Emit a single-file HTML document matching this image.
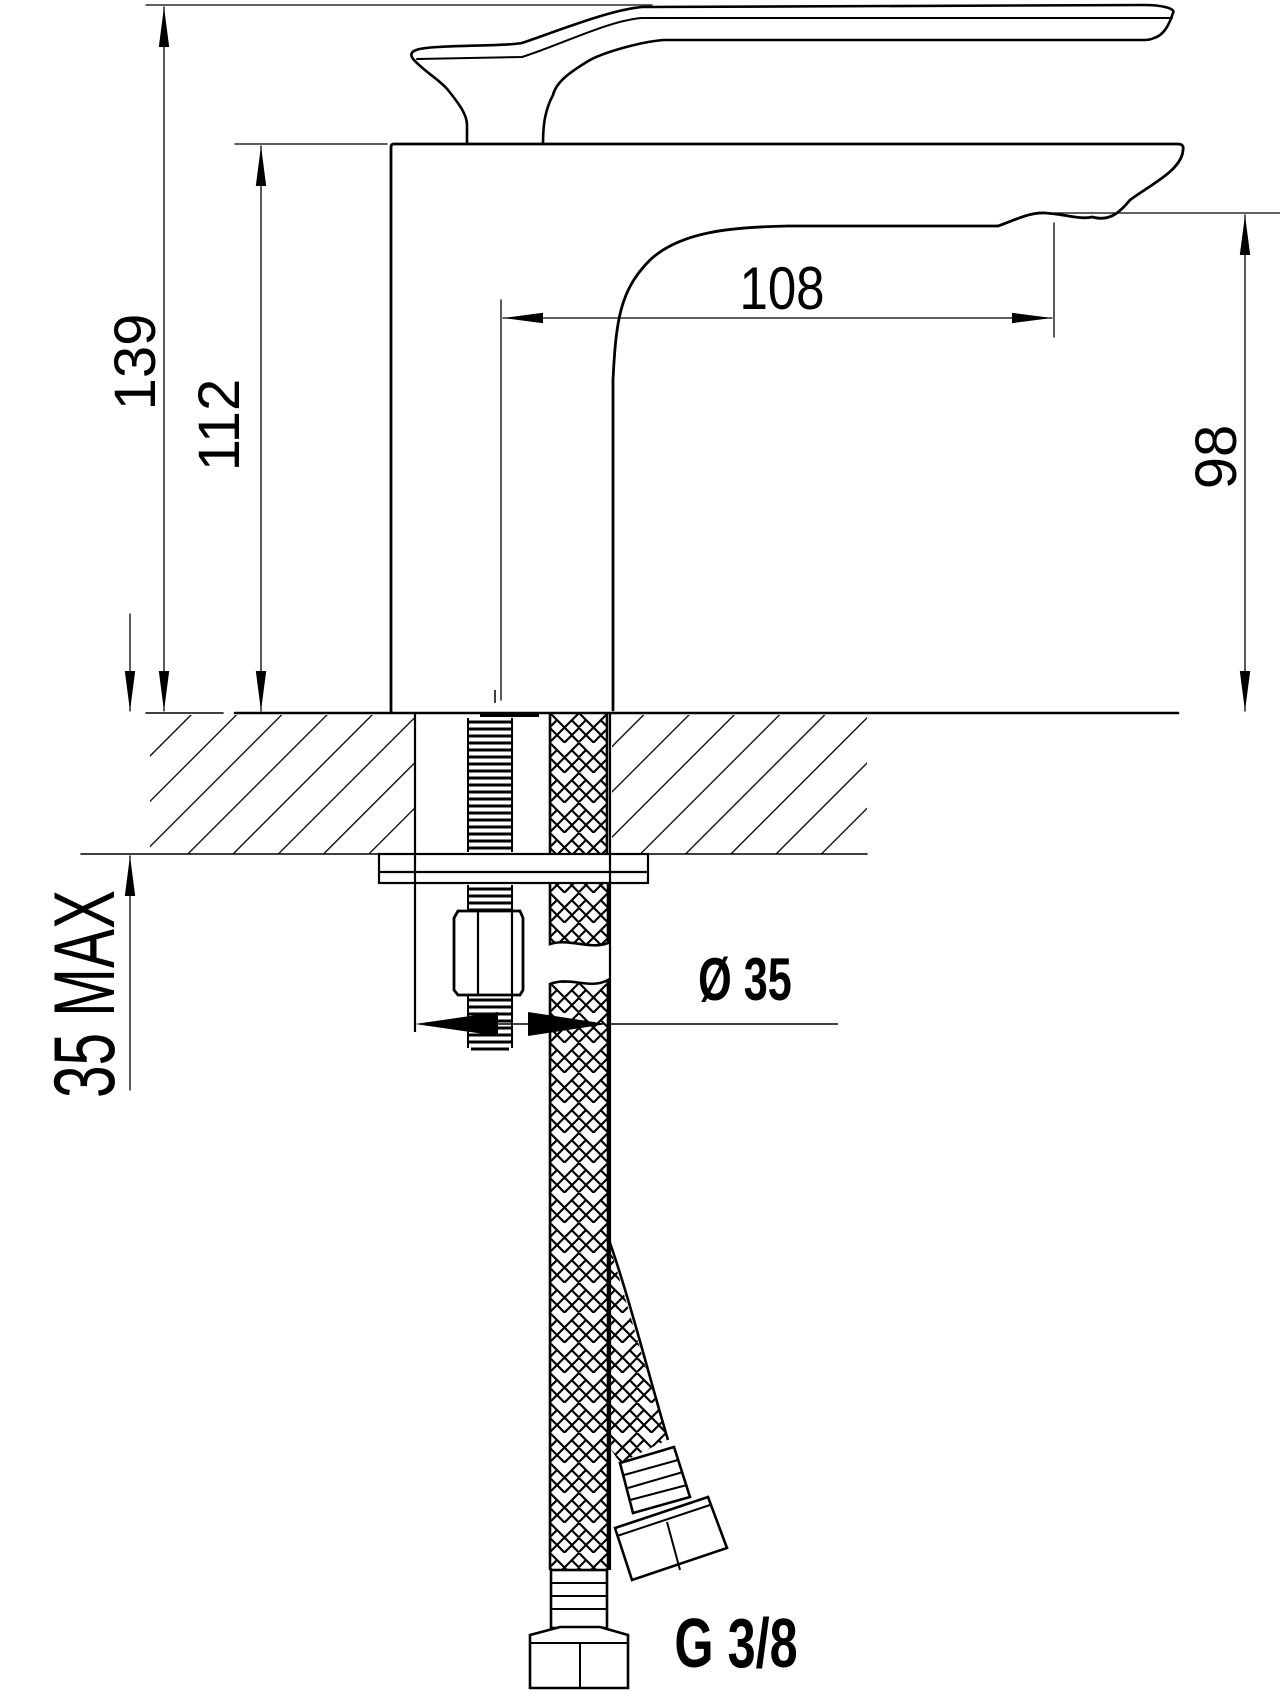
<!DOCTYPE html>
<html><head><meta charset="utf-8"><style>
html,body{margin:0;padding:0;background:#fff;}
svg{display:block;}
text{font-family:"Liberation Sans",sans-serif;fill:#000;}
</style></head><body>
<svg width="1280" height="1697" viewBox="0 0 1280 1697" xmlns="http://www.w3.org/2000/svg">
<defs>
<marker id="ab" viewBox="0 0 10 10" refX="10" refY="5" markerWidth="40" markerHeight="40" markerUnits="userSpaceOnUse" orient="auto-start-reverse"><path d="M0,3.7 L10,5 L0,6.3 Z" fill="#000"/></marker>
<pattern id="hatch" patternUnits="userSpaceOnUse" width="32" height="32" patternTransform="rotate(45)">
<line x1="0" y1="0" x2="0" y2="32" stroke="#000" stroke-width="2.6"/>
</pattern>
<pattern id="braid" patternUnits="userSpaceOnUse" width="29" height="30" x="550" y="713">
<path d="M0,0 L14.5,14.5 L29,0 M0,15 L14.5,29.5 L29,15 M7,7 L0,14 M21.5,7 L29,14.5 M7,22 L0,29 M21.5,22 L29,29.5 M14.5,14.5 L7,22 M14.5,14.5 L22,22" stroke="#000" stroke-width="2.2" fill="none"/>
</pattern>
<clipPath id="hl"><rect x="150" y="715" width="265" height="139"/></clipPath>
<clipPath id="hr"><rect x="612" y="715" width="255" height="139"/></clipPath>
</defs>

<g fill="none" stroke="#000" stroke-linecap="round" stroke-linejoin="round">
<line x1="146" y1="5" x2="652" y2="5" stroke-width="1.3"/>
<line x1="164" y1="7" x2="164" y2="711" stroke-width="1.3" marker-start="url(#ab)" marker-end="url(#ab)"/>
<line x1="235" y1="144" x2="387" y2="144" stroke-width="1.3"/>
<line x1="261" y1="146" x2="261" y2="711" stroke-width="1.3" marker-start="url(#ab)" marker-end="url(#ab)"/>
<line x1="1055" y1="213" x2="1280" y2="213" stroke-width="1.3"/>
<line x1="1245" y1="215" x2="1245" y2="711" stroke-width="1.3" marker-start="url(#ab)" marker-end="url(#ab)"/>
<line x1="501" y1="300" x2="501" y2="700" stroke-width="1.3"/>
<line x1="1054" y1="223" x2="1054" y2="337" stroke-width="1.3"/>
<line x1="503" y1="318" x2="1052" y2="318" stroke-width="1.3" marker-start="url(#ab)" marker-end="url(#ab)"/>
<line x1="130" y1="614" x2="130" y2="711" stroke-width="1.3" marker-end="url(#ab)"/>
<line x1="130" y1="1090" x2="130" y2="856" stroke-width="1.3" marker-end="url(#ab)"/>

<path d="M414,60 C405,50 420,48 438,47 C470,45 505,46 522,43 C560,30 610,10 642,7 L1144,5 C1160,5 1176,8 1173,13 C1170,22 1165,35 1154,38 C1150,40 1147,40 1144,40 L663,40 C640,42 605,52 590,60 C570,72 556,82 553,95 C545,110 543,125 543,143" stroke-width="2.6"/>
<path d="M417,59 L522,57 C560,45 610,20 642,18 L1172,18" stroke-width="2"/>
<path d="M414,60 C425,72 440,80 448,90 C460,105 467,115 467,125 L467,143" stroke-width="2.6"/>

<path d="M613,710 L613,380 C616,320 620,290 650,260 C680,232 730,227 788,226 L998,226 C1015,220 1030,212 1045,213 C1065,214 1080,220 1092,217 C1110,222 1120,212 1130,200 C1150,185 1182,170 1183,150 C1184,146 1182,144 1178,144 L394,144 C391,144 391,146 391,148 L391,712" stroke-width="2.8"/>

<line x1="146" y1="713" x2="223" y2="713" stroke-width="1.5"/>
<line x1="235" y1="713" x2="1178" y2="713" stroke-width="2.6"/>
<line x1="81" y1="854" x2="867" y2="854" stroke-width="1.6"/>
</g>
<rect x="150" y="715" width="265" height="139" fill="url(#hatch)" clip-path="url(#hl)"/>
<rect x="612" y="715" width="255" height="139" fill="url(#hatch)" clip-path="url(#hr)"/>
<rect x="416" y="715" width="194" height="138" fill="#fff"/>

<g fill="none" stroke="#000" stroke-linejoin="round">
<line x1="415" y1="713" x2="415" y2="1032" stroke-width="2.2"/>
<line x1="610" y1="713" x2="610" y2="1570" stroke-width="2.2"/>
<line x1="480" y1="715" x2="539" y2="715" stroke-width="4"/>
<line x1="495" y1="690" x2="495" y2="703" stroke-width="1.5"/>
</g>
<g stroke="#000" stroke-width="3" fill="none">
<path d="M469,722 L511,722 M469,729 L511,729 M469,736 L511,736 M469,743 L511,743 M469,750 L511,750 M469,757 L511,757 M469,764 L511,764 M469,771 L511,771 M469,778 L511,778 M469,785 L511,785 M469,792 L511,792 M469,799 L511,799 M469,806 L511,806 M469,813 L511,813 M469,820 L511,820 M469,827 L511,827 M469,834 L511,834 M469,841 L511,841 M469,848 L511,848"/>
<path d="M469,889 L511,889 M469,896 L511,896 M469,903 L511,903 M469,910 L511,910"/>
<path d="M469,1000 L511,1000 M469,1007 L511,1007 M469,1014 L511,1014 M469,1021 L511,1021 M469,1028 L511,1028 M469,1035 L511,1035 M469,1042 L511,1042 M471,1049 L509,1049"/>
<line x1="468" y1="718" x2="468" y2="852" stroke-width="2"/>
<line x1="512" y1="718" x2="512" y2="852" stroke-width="2"/>
<line x1="468" y1="885" x2="468" y2="910" stroke-width="2"/>
<line x1="512" y1="885" x2="512" y2="910" stroke-width="2"/>
<line x1="468" y1="996" x2="468" y2="1048" stroke-width="2"/>
<line x1="512" y1="996" x2="512" y2="1048" stroke-width="2"/>
</g>

<g fill="#fff" stroke="#000" stroke-width="2.2">
<rect x="379" y="854" width="269" height="29"/>
<line x1="379" y1="872" x2="648" y2="872"/>
<line x1="415" y1="854" x2="415" y2="883"/>
<line x1="610" y1="854" x2="610" y2="883"/>
<path d="M458,911 L520,911 L523,918 L523,990 L520,995 L458,995 L454,990 L454,918 Z" stroke-width="2.8"/>
<line x1="478" y1="912" x2="478" y2="994" stroke-width="2.2"/>
<line x1="512" y1="912" x2="512" y2="994" stroke-width="2.2"/>
</g>

<rect x="550" y="713" width="58" height="140" fill="url(#braid)"/>
<path d="M550,884 L608,884 L608,943 C590,950 570,938 550,944 Z" fill="url(#braid)"/>
<path d="M550,984 C570,976 590,990 608,980 L608,1570 L550,1570 Z" fill="url(#braid)"/>
<g stroke="#000" stroke-width="2.6" fill="none">
<line x1="550" y1="713" x2="550" y2="853"/>
<line x1="607" y1="713" x2="607" y2="853"/>
<path d="M550,884 L550,944 C570,938 590,950 608,943 L608,884"/>
<path d="M550,1570 L550,984 C570,976 590,990 608,980 L608,1570"/>
</g>

<path d="M608,1240 L667,1440 L620,1463 L608,1445 Z" fill="url(#braid)"/>
<g stroke="#000" stroke-width="2.6" fill="none">
<path d="M609,1240 C630,1300 650,1380 668,1440"/>
<path d="M620,1463 L674,1447 L690,1497 L633,1513 Z" fill="#fff"/>
<path d="M624,1475 L678,1460 M628,1488 L683,1472 M630,1500 L687,1485" stroke-width="2"/>
<path d="M615,1528 L708,1497 L727,1548 L632,1580 Z" fill="#fff"/>
<path d="M617,1536 L710,1505" stroke-width="2"/>
<line x1="667" y1="1522" x2="680" y2="1570" stroke-width="2"/>
</g>

<g stroke="#000" stroke-width="2.6" fill="#fff">
<rect x="551" y="1570" width="56" height="58"/>
<path d="M551,1583 L607,1583 M551,1596 L607,1596 M551,1609 L607,1609" fill="none" stroke-width="2"/>
<path d="M530,1635 L560,1627 L600,1627 L628,1635 L628,1688 L530,1688 Z"/>
<line x1="530" y1="1643" x2="628" y2="1643" stroke-width="2"/>
<line x1="580" y1="1643" x2="580" y2="1688" stroke-width="2"/>
</g>

<line x1="608" y1="1024" x2="838" y2="1024" stroke="#000" stroke-width="1.5"/>
<path d="M415,1024 L498,1012 L498,1036 Z" fill="#000"/>
<path d="M607,1024 L528,1012 L528,1036 Z" fill="#000"/>
<line x1="498" y1="1024" x2="528" y2="1024" stroke="#000" stroke-width="1.5"/>

<text transform="translate(155,362) rotate(-90)" font-size="58" text-anchor="middle">139</text>
<text transform="translate(239,425) rotate(-90)" font-size="58" text-anchor="middle">112</text>
<text transform="translate(782,309) scale(0.85,1)" font-size="60" text-anchor="middle">108</text>
<text transform="translate(1236,457) rotate(-90)" font-size="58" text-anchor="middle">98</text>
<text transform="translate(114,994) rotate(-90) scale(0.68,1)" font-size="86" text-anchor="middle">35 MAX</text>
<text transform="translate(745,1000) scale(0.72,1)" font-size="60" font-weight="bold" text-anchor="middle">Ø 35</text>
<text transform="translate(736,1667) scale(0.72,1)" font-size="70" font-weight="bold" text-anchor="middle">G 3/8</text>
</svg>
</body></html>
